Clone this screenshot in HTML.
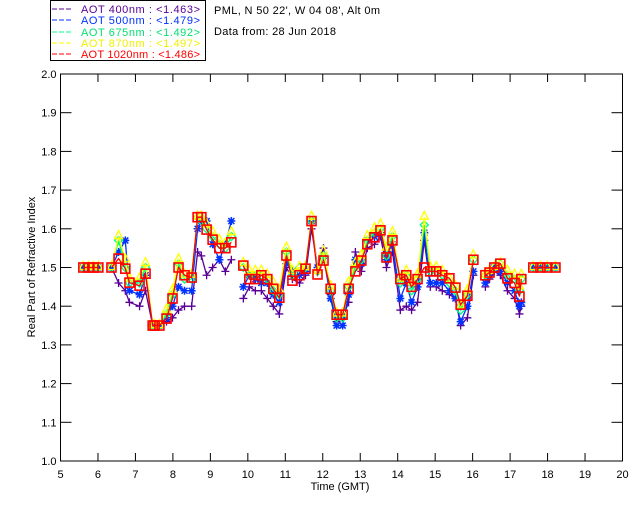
<!DOCTYPE html>
<html><head><meta charset="utf-8"><style>
body{margin:0;background:#fff;width:640px;height:512px;overflow:hidden}
svg{display:block;font-family:"Liberation Sans","DejaVu Sans",sans-serif}
</style></head><body>
<svg id="chart" width="640" height="512" viewBox="0 0 640 512">
<g>
<rect x="50.5" y="0.5" width="155" height="60" fill="#fff" stroke="#000"/>
<g font-size="11">
<line x1="52" y1="9" x2="72" y2="9" stroke="#5a0096" stroke-dasharray="5,2"/><text x="81" y="13" fill="#5a0096" textLength="119" lengthAdjust="spacing">AOT  400nm : &lt;1.463&gt;</text>
<line x1="52" y1="20" x2="72" y2="20" stroke="#0032ff" stroke-dasharray="5,2"/><text x="81" y="24" fill="#0032ff" textLength="119" lengthAdjust="spacing">AOT  500nm : &lt;1.479&gt;</text>
<line x1="52" y1="32" x2="72" y2="32" stroke="#00ff80" stroke-dasharray="5,2"/><text x="81" y="36" fill="#00e070" textLength="119" lengthAdjust="spacing">AOT  675nm : &lt;1.492&gt;</text>
<line x1="52" y1="43" x2="72" y2="43" stroke="#ffff00" stroke-dasharray="5,2"/><text x="81" y="47" fill="#f0f000" textLength="119" lengthAdjust="spacing">AOT  870nm : &lt;1.497&gt;</text>
<line x1="52" y1="54" x2="72" y2="54" stroke="#ff0000" stroke-dasharray="5,2"/><text x="81" y="58" fill="#ff0000" textLength="119" lengthAdjust="spacing">AOT 1020nm : &lt;1.486&gt;</text>
</g></g>
<text x="214" y="14" font-size="11" textLength="166" lengthAdjust="spacing">PML, N 50 22', W 04 08', Alt 0m</text>
<text x="214" y="35" font-size="11" textLength="122" lengthAdjust="spacing">Data from: 28 Jun 2018</text>
<g id="axes"></g>
<g id="series"></g>
<text x="340" y="490" font-size="11" text-anchor="middle">Time (GMT)</text>
<text x="35" y="267" font-size="11" text-anchor="middle" transform="rotate(-90 35 267)">Real Part of Refractive Index</text>
</svg>
<script>
const times=[5.61,5.75,5.88,6.01, 6.36,6.55,6.73,6.84,7.11,7.27,7.46,7.51,7.64,7.83,7.99,8.15,8.31,8.50,8.66,8.76,8.90,9.06,9.24,9.40,9.56, 9.88,10.04,10.20,10.36,10.52,10.68,10.84,11.03,11.19,11.38,11.54,11.70,11.86,12.02,12.21,12.37,12.53,12.69,12.87,13.03,13.19,13.38,13.54,13.70,13.86,14.07,14.23,14.37,14.53,14.71,14.87,15.03,15.19,15.38,15.54,15.68,15.86,16.02, 16.34,16.45,16.58,16.74,16.93,17.12,17.25,17.30, 17.62,17.81,17.99,18.21];
const aot400=[1.50,1.50,1.50,1.50, 1.50,1.46,1.44,1.41,1.40,1.44,1.35,1.35,1.35,1.36,1.37,1.39,1.40,1.40,1.54,1.53,1.48,1.50,1.52,1.49,1.52, 1.42,1.45,1.44,1.44,1.42,1.40,1.38,1.50,1.47,1.46,1.48,1.60,1.50,1.55,1.43,1.36,1.37,1.41,1.54,1.49,1.55,1.56,1.58,1.50,1.54,1.39,1.40,1.39,1.41,1.57,1.45,1.45,1.44,1.43,1.42,1.35,1.37,1.48, 1.45,1.47,1.49,1.48,1.44,1.42,1.38,1.40, 1.50,1.50,1.50,1.50];
const aot500=[1.50,1.50,1.50,1.50, 1.50,1.54,1.57,1.44,1.43,1.48,1.35,1.35,1.35,1.37,1.40,1.45,1.44,1.44,1.60,1.62,1.62,1.56,1.52,1.56,1.62, 1.45,1.48,1.47,1.46,1.46,1.43,1.41,1.51,1.49,1.48,1.49,1.62,1.50,1.53,1.42,1.35,1.35,1.43,1.52,1.51,1.57,1.58,1.59,1.52,1.56,1.42,1.46,1.41,1.45,1.59,1.46,1.46,1.46,1.44,1.42,1.36,1.40,1.49, 1.46,1.48,1.50,1.49,1.46,1.44,1.40,1.41, 1.50,1.50,1.50,1.50];
const aot675=[1.50,1.50,1.50,1.50, 1.50,1.57,1.50,1.46,1.46,1.50,1.35,1.35,1.35,1.38,1.43,1.51,1.47,1.47,1.63,1.62,1.60,1.58,1.56,1.55,1.58, 1.50,1.48,1.48,1.48,1.47,1.44,1.43,1.54,1.48,1.50,1.50,1.62,1.49,1.53,1.44,1.37,1.37,1.45,1.50,1.52,1.57,1.59,1.60,1.53,1.58,1.46,1.48,1.44,1.47,1.61,1.49,1.49,1.48,1.46,1.44,1.39,1.43,1.52, 1.48,1.49,1.50,1.51,1.48,1.47,1.44,1.47, 1.50,1.50,1.50,1.50];
const aot870=[1.50,1.50,1.50,1.50, 1.50,1.58,1.52,1.47,1.47,1.51,1.35,1.35,1.35,1.39,1.44,1.52,1.48,1.48,1.63,1.63,1.61,1.59,1.57,1.56,1.59, 1.51,1.49,1.49,1.49,1.48,1.46,1.44,1.55,1.49,1.50,1.50,1.63,1.49,1.54,1.45,1.38,1.38,1.46,1.51,1.53,1.58,1.60,1.61,1.55,1.59,1.47,1.49,1.46,1.48,1.63,1.50,1.50,1.49,1.47,1.45,1.40,1.44,1.53, 1.48,1.49,1.50,1.51,1.49,1.48,1.45,1.48, 1.50,1.50,1.50,1.50];
const aot1020=[1.50,1.50,1.50,1.50, 1.50,1.523,1.497,1.461,1.453,1.484,1.35,1.35,1.35,1.368,1.42,1.50,1.48,1.474,1.63,1.63,1.598,1.572,1.55,1.55,1.565, 1.505,1.47,1.47,1.48,1.47,1.445,1.422,1.531,1.466,1.48,1.497,1.62,1.482,1.518,1.445,1.378,1.378,1.445,1.49,1.518,1.56,1.578,1.596,1.526,1.57,1.47,1.48,1.45,1.47,1.50,1.49,1.49,1.48,1.472,1.448,1.404,1.427,1.52, 1.48,1.487,1.50,1.51,1.472,1.46,1.425,1.47, 1.50,1.50,1.50,1.50];
const xTicks=[5,6,7,8,9,10,11,12,13,14,15,16,17,18,19,20];
const yTicks=[1.0,1.1,1.2,1.3,1.4,1.5,1.6,1.7,1.8,1.9,2.0];
const X0=60.5,X1=622.5,Y0=461,Y1=74;
const sx=t=>X0+(t-5)/15*(X1-X0);
const sy=v=>Y0-(v-1)/1*(Y0-Y1);
const NS='http://www.w3.org/2000/svg';
function mk(tag,attrs,parent){const e=document.createElementNS(NS,tag);for(const k in attrs)e.setAttribute(k,attrs[k]);parent.appendChild(e);return e;}
const axes=document.getElementById('axes');
const frame=mk('rect',{x:X0,y:Y1,width:X1-X0,height:Y0-Y1,fill:'none',stroke:'#000'},axes);


xTicks.forEach(t=>{const x=sx(t);
 mk('line',{x1:x,y1:Y0,x2:x,y2:Y0-8,stroke:'#000'},axes);
 mk('line',{x1:x,y1:Y1,x2:x,y2:Y1+8,stroke:'#000'},axes);
 const tx=mk('text',{x:x,y:Y0+17,'font-size':11,'text-anchor':'middle'},axes);tx.textContent=t;
 
 });
yTicks.forEach(v=>{const y=sy(v);
 mk('line',{x1:X0,y1:y,x2:X0+11,y2:y,stroke:'#000'},axes);
 mk('line',{x1:X1,y1:y,x2:X1-11,y2:y,stroke:'#000'},axes);
 const tx=mk('text',{x:X0-4,y:y+4,'font-size':11,'text-anchor':'end'},axes);tx.textContent=v.toFixed(1);
 
 });
const sg=document.getElementById('series');
function drawSeries(vals,color,marker,name){
 const g=mk('g',{},sg);
 
 
 let d='';
 for(let i=0;i<times.length;i++){const x=sx(times[i]),y=sy(vals[i]);
  d+=(i===0||times[i]-times[i-1]>0.3?'M':'L')+x.toFixed(1)+','+y.toFixed(1);}
 mk('path',{d:d,fill:'none',stroke:color,'stroke-width':1.3},g);
 for(let i=0;i<times.length;i++){const x=sx(times[i]),y=sy(vals[i]);let m;
  if(marker==='plus') m=mk('path',{d:`M${x-4},${y}H${x+4}M${x},${y-4}V${y+4}`,stroke:color,'stroke-width':1.3},g);
  else if(marker==='star') m=mk('path',{d:`M${x-4},${y}H${x+4}M${x},${y-4}V${y+4}M${x-3},${y-3}L${x+3},${y+3}M${x-3},${y+3}L${x+3},${y-3}`,stroke:color,'stroke-width':1.5},g);
  else if(marker==='diamond') m=mk('path',{d:`M${x},${y-4}L${x+4},${y}L${x},${y+4}L${x-4},${y}Z`,fill:'none',stroke:color,'stroke-width':1.3},g);
  else if(marker==='tri') m=mk('path',{d:`M${x},${y-6}L${x+4},${y+2}L${x-4},${y+2}Z`,fill:'none',stroke:color,'stroke-width':1.3},g);
  else m=mk('rect',{x:x-4.5,y:y-4.5,width:9,height:9,fill:'none',stroke:color,'stroke-width':1.6},g);
  
  }
}
drawSeries(aot400,'#5a0096','plus','series-400nm');
drawSeries(aot500,'#0032ff','star','series-500nm');
drawSeries(aot675,'#00ff80','diamond','series-675nm');
drawSeries(aot870,'#ffff00','tri','series-870nm');
drawSeries(aot1020,'#ff0000','square','series-1020nm');
</script>
</body></html>
